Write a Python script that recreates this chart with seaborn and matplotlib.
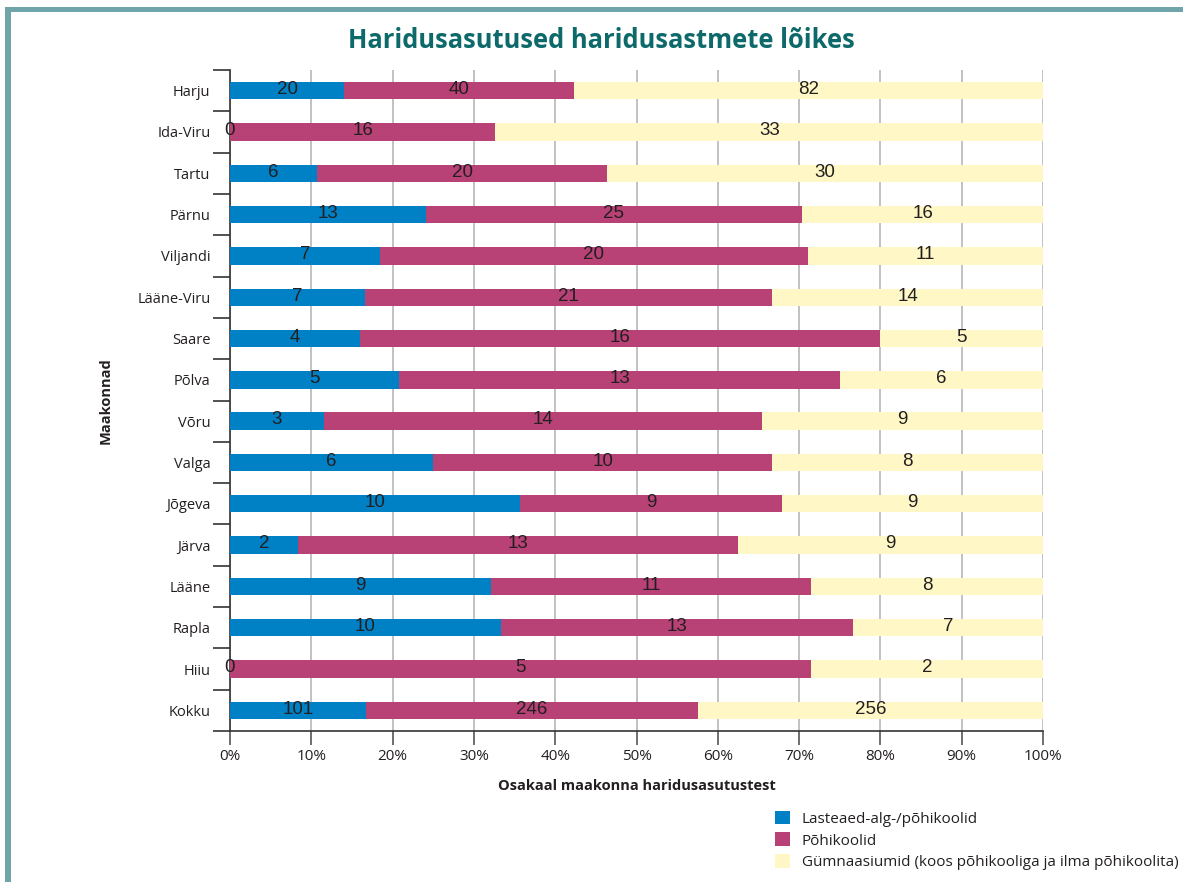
import numpy as np
import pandas as pd
import matplotlib
matplotlib.use("Agg")
import matplotlib.pyplot as plt
import seaborn as sns
from matplotlib.patches import Patch, Rectangle
from matplotlib.ticker import PercentFormatter

counties = ["Harju", "Ida-Viru", "Tartu", "Pärnu", "Viljandi", "Lääne-Viru", "Saare",
            "Põlva", "Võru", "Valga", "Jõgeva", "Järva", "Lääne", "Rapla", "Hiiu", "Kokku"]
lasteaed = [20, 0, 6, 13, 7, 7, 4, 5, 3, 6, 10, 2, 9, 10, 0, 101]
pohikoolid = [40, 16, 20, 25, 20, 21, 16, 13, 14, 10, 9, 13, 11, 13, 5, 246]
gymnaasiumid = [82, 33, 30, 16, 11, 14, 5, 6, 9, 8, 9, 9, 8, 7, 2, 256]

series_names = ["Lasteaed-alg-/põhikoolid", "Põhikoolid",
                "Gümnaasiumid (koos põhikooliga ja ilma põhikoolita)"]
colors = ["#0081C6", "#B84175", "#FFF8C6"]

df = pd.DataFrame({"maakond": counties, "a": lasteaed, "b": pohikoolid, "c": gymnaasiumid})
total = df[["a", "b", "c"]].sum(axis=1)
for k in ["a", "b", "c"]:
    df[k + "_pct"] = df[k] / total * 100
df["cum1"] = df["a_pct"]
df["cum2"] = df["a_pct"] + df["b_pct"]
df["cum3"] = df["cum2"] + df["c_pct"]

sns.set_theme(style="white")
plt.rcParams["font.family"] = ["Open Sans", "DejaVu Sans"]
txt = "#231F20"

fig = plt.figure(figsize=(11.83, 8.82), dpi=100)
ax = fig.add_axes([0.1944, 0.1712, 0.6873, 0.7494])

# layered cumulative bars, widest first
for col, c in zip(["cum3", "cum2", "cum1"], colors[::-1]):
    sns.barplot(data=df, x=col, y="maakond", color=c, width=0.42,
                saturation=1, ax=ax, orient="h", zorder=3, linewidth=0, edgecolor="none")

# count labels centred in segments
for i, row in df.iterrows():
    starts = [0, row["cum1"], row["cum2"]]
    for s, p, v in zip(starts, [row["a_pct"], row["b_pct"], row["c_pct"]],
                       [row["a"], row["b"], row["c"]]):
        ax.text(s + p / 2, i - 0.03, str(v), ha="center", va="center", fontsize=13.5,
                color=txt, family="Liberation Sans", zorder=4)

ax.set_xlim(0, 100)
ax.set_ylim(15.5, -0.5)
ax.set_xticks(np.arange(0, 101, 10))
ax.xaxis.set_major_formatter(PercentFormatter(decimals=0))
ax.set_yticks(range(len(counties)))
ax.set_yticklabels(counties)
ax.set_yticks(np.arange(-0.5, 16, 1), minor=True)
ax.tick_params(axis="y", which="major", length=0, pad=14, labelsize=10.5, labelcolor=txt)
ax.tick_params(axis="y", which="minor", left=True, length=12, width=1.2, color="#333333")
ax.tick_params(axis="x", bottom=True, length=10, width=1.2, color="#555555",
               labelsize=11, labelcolor=txt, pad=3)
ax.grid(axis="x", color="#BDBDBD", linewidth=1.3, zorder=0)
ax.set_axisbelow(True)
for s in ["top", "right"]:
    ax.spines[s].set_visible(False)
for s in ["left", "bottom"]:
    ax.spines[s].set_color("#333333")
    ax.spines[s].set_linewidth(1.2)
ax.set_xlabel("Osakaal maakonna haridusasutustest", fontsize=10.5, fontweight="bold",
              color=txt, labelpad=11)
ax.set_ylabel("Maakonnad", fontsize=10.5, fontweight="bold", color=txt, labelpad=18)

fig.text(0.508, 0.954, "Haridusasutused haridusastmete lõikes", ha="center", va="center",
         fontsize=18.4, fontweight="bold", color="#0E6A6A")

handles = [Patch(facecolor=c, edgecolor="none") for c in colors]
fig.legend(handles, series_names, loc="upper left", bbox_to_anchor=(0.655, 0.081),
           frameon=False, fontsize=11, handlelength=1.0, handleheight=1.0,
           handletextpad=0.75, labelspacing=0.38, borderaxespad=0, borderpad=0,
           labelcolor=txt)

# frame lines on left and top
frame_c = "#6FA5A8"
fig.add_artist(Rectangle((5 / 1183, 0), 6 / 1183, 1 - 7 / 882, transform=fig.transFigure,
                         facecolor=frame_c, edgecolor="none"))
fig.add_artist(Rectangle((5 / 1183, 1 - 12 / 882), 1, 5 / 882, transform=fig.transFigure,
                         facecolor=frame_c, edgecolor="none"))

fig.savefig("out.png", dpi=100)
